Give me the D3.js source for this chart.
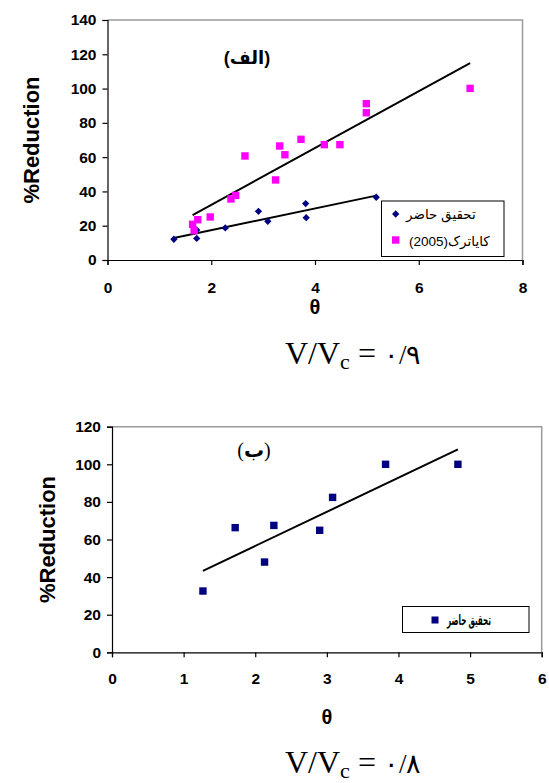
<!DOCTYPE html>
<html><head><meta charset="utf-8">
<script src="https://cdn.jsdelivr.net/npm/d3@7"></script>
<style>
body{margin:0;background:#fff;}
svg{display:block;}
</style></head>
<body><svg id="c" width="549" height="783" font-family="Arial,'Liberation Sans','DejaVu Sans',sans-serif"></svg>
<script>
// ---------- data: panel (الف) ----------
const xTicksA = [0, 2, 4, 6, 8];
const yTicksA = [0, 20, 40, 60, 80, 100, 120, 140];
const presentA_theta = [1.28, 1.72, 1.72, 2.27, 2.91, 3.09, 3.82, 3.83, 5.18];
const presentA_red   = [12.1, 17.5, 12.6, 18.7, 28.4, 22.6, 32.9, 24.7, 36.6];
const kayaA_theta = [1.64, 1.67, 1.74, 1.98, 2.38, 2.47, 2.65, 3.24, 3.32, 3.42, 3.73, 4.18, 4.48, 4.99, 4.99, 6.99];
const kayaA_red   = [20.8, 17.1, 23.5, 25.1, 35.6, 37.7, 60.7, 46.7, 66.5, 61.4, 70.4, 67.3, 67.3, 85.9, 91.2, 100.1];
const seriesNamesA = ["تحقیق حاضر", "(2005)کایاترک"];
// ---------- data: panel (ب) ----------
const xTicksB = [0, 1, 2, 3, 4, 5, 6];
const yTicksB = [0, 20, 40, 60, 80, 100, 120];
const presentB_theta = [1.27, 1.72, 2.13, 2.26, 2.90, 3.08, 3.82, 4.83];
const presentB_red   = [32.6, 66.3, 48.0, 67.5, 64.9, 82.4, 100.0, 100.0];
const seriesNamesB = ["تحقیق حاضر"];
const titleA = "(الف)";
const titleB = ["(", "ب", ")"];
const ratioLabels = ["۰/۹", "۰/۸"];

const svg = d3.select("#c");

function regression(xs, ys) {
  const mx = d3.mean(xs), my = d3.mean(ys);
  let sxy = 0, sxx = 0;
  xs.forEach((x, i) => { sxy += (x - mx) * (ys[i] - my); sxx += (x - mx) * (x - mx); });
  const b = sxy / sxx, a = my - b * mx;
  const [lo, hi] = d3.extent(xs);
  return [[lo, a + b * lo], [hi, a + b * hi]];
}

function panel(o) {
  const g = svg.append("g");
  const x = d3.scaleLinear().domain(d3.extent(o.xTicks)).range([o.left, o.right]);
  const y = d3.scaleLinear().domain(d3.extent(o.yTicks)).range([o.bottom, o.top]);
  g.append("path").attr("d", `M${o.left},${o.top}H${o.right}V${o.bottom}`)
    .attr("fill", "none").attr("stroke", "#9a9a9a").attr("stroke-width", 1.5);
  const xa = g.append("g").attr("transform", `translate(0,${o.bottom})`)
    .call(d3.axisBottom(x).tickValues(o.xTicks).tickFormat(d3.format("d")).tickSizeOuter(0).tickSize(5).tickPadding(o.xPad));
  const ya = g.append("g").attr("transform", `translate(${o.left},0)`)
    .call(d3.axisLeft(y).tickValues(o.yTicks).tickFormat(d3.format("d")).tickSizeOuter(0).tickSize(5).tickPadding(o.yPad));
  [xa, ya].forEach(a => {
    a.attr("font-family", null).attr("font-size", null);
    a.selectAll("path,line").attr("stroke", "#000").attr("stroke-width", 1.2);
    a.selectAll("text").attr("font-size", 15.5).attr("font-weight", "bold").attr("fill", "#000")
      .attr("font-family", "Arial,'Liberation Sans',sans-serif");
  });
  g.append("text").attr("x", (o.left + o.right) / 2).attr("y", o.thetaY)
    .attr("text-anchor", "middle").attr("font-size", 20).attr("font-weight", "bold").text("θ");
  g.append("text").attr("transform", `translate(${o.ylabX},${(o.top + o.bottom) / 2}) rotate(-90)`)
    .attr("text-anchor", "middle").attr("font-size", 22).attr("font-weight", "bold").text("%Reduction");
  return { g, x, y };
}

// ================= Panel A =================
const A = panel({ left: 107.5, right: 522.5, top: 20, bottom: 260, xTicks: xTicksA, yTicks: yTicksA,
  xPad: 17, yPad: 6, thetaY: 314, ylabX: 39 });
{
  const { g, x, y } = A;
  const kaya = kayaA_theta.map((t, i) => ({ t, r: kayaA_red[i] }));
  const pres = presentA_theta.map((t, i) => ({ t, r: presentA_red[i] }));
  const line = d3.line().x(d => x(d[0])).y(d => y(d[1]));
  g.append("path").attr("d", line(regression(kayaA_theta, kayaA_red))).attr("stroke", "#000").attr("stroke-width", 2).attr("fill", "none");
  g.append("path").attr("d", line(regression(presentA_theta, presentA_red))).attr("stroke", "#000").attr("stroke-width", 2).attr("fill", "none");
  const diamond = d3.symbol().type(d3.symbolDiamond2).size(34);
  g.selectAll(".pd").data(pres).join("path").attr("class", "pd")
    .attr("transform", d => `translate(${x(d.t)},${y(d.r)})`).attr("d", diamond).attr("fill", "#000080");
  g.selectAll(".ks").data(kaya).join("rect").attr("class", "ks")
    .attr("x", d => x(d.t) - 3.7).attr("y", d => y(d.r) - 3.7).attr("width", 7.4).attr("height", 7.4).attr("fill", "#ff00ff");
  g.append("text").attr("x", 247).attr("y", 64).attr("text-anchor", "middle").attr("font-size", 18)
    .attr("font-weight", "bold").text(titleA);
  const lg = g.append("g");
  lg.append("rect").attr("x", 381.5).attr("y", 201).attr("width", 122.5).attr("height", 55.5)
    .attr("fill", "#fff").attr("stroke", "#000").attr("stroke-width", 1);
  lg.append("path").attr("transform", "translate(395.7,214)").attr("d", diamond).attr("fill", "#000080");
  lg.append("rect").attr("x", 392).attr("y", 236.3).attr("width", 7.4).attr("height", 7.4).attr("fill", "#ff00ff");
  lg.append("text").attr("x", 406).attr("y", 218.5).attr("font-size", 13.5).text(seriesNamesA[0]);
  lg.append("text").attr("x", 409).attr("y", 245.5).attr("font-size", 13.5).text(seriesNamesA[1]);
}

// ================= Panel B =================
const B = panel({ left: 112, right: 541.7, top: 426.7, bottom: 652.3, xTicks: xTicksB, yTicks: yTicksB,
  xPad: 16, yPad: 6, thetaY: 724, ylabX: 55 });
{
  const { g, x, y } = B;
  const pres = presentB_theta.map((t, i) => ({ t, r: presentB_red[i] }));
  const line = d3.line().x(d => x(d[0])).y(d => y(d[1]));
  g.append("path").attr("d", line(regression(presentB_theta, presentB_red))).attr("stroke", "#000").attr("stroke-width", 2).attr("fill", "none");
  g.selectAll(".ps").data(pres).join("rect").attr("class", "ps")
    .attr("x", d => x(d.t) - 3.7).attr("y", d => y(d.r) - 3.7).attr("width", 7.4).attr("height", 7.4).attr("fill", "#000080");
  const tb = g.append("text").attr("x", 254).attr("y", 457).attr("text-anchor", "middle").attr("font-size", 20)
    .attr("font-family", "'Liberation Serif','DejaVu Sans',serif");
  tb.append("tspan").text(titleB[0]);
  tb.append("tspan").attr("font-weight", "bold").attr("font-family", "'DejaVu Sans',sans-serif").text(titleB[1]);
  tb.append("tspan").text(titleB[2]);
  const lg = g.append("g");
  lg.append("rect").attr("x", 402.5).attr("y", 606.5).attr("width", 126.5).attr("height", 26)
    .attr("fill", "#fff").attr("stroke", "#000").attr("stroke-width", 1);
  lg.append("rect").attr("x", 431.5).attr("y", 616.5).attr("width", 7).attr("height", 7).attr("fill", "#000080");
  lg.append("text").attr("x", 447).attr("y", 625).attr("font-size", 14).attr("font-weight", "bold")
    .attr("textLength", 44).attr("lengthAdjust", "spacingAndGlyphs").text(seriesNamesB[0]);
}

// ================= V/Vc labels =================
function ratio(yBase, val) {
  const t = svg.append("text").attr("x", 285).attr("y", yBase)
    .attr("font-family", "'Liberation Serif','Times New Roman',serif").attr("font-size", 32).attr("fill", "#000");
  t.append("tspan").text("V/V");
  t.append("tspan").attr("font-size", 22).attr("dy", 5).text("c");
  t.append("tspan").attr("dy", -5).text(" = ");
  t.append("tspan").attr("font-size", 27).text(val);
}
ratio(364, ratioLabels[0]);
ratio(773, ratioLabels[1]);
</script></body></html>
